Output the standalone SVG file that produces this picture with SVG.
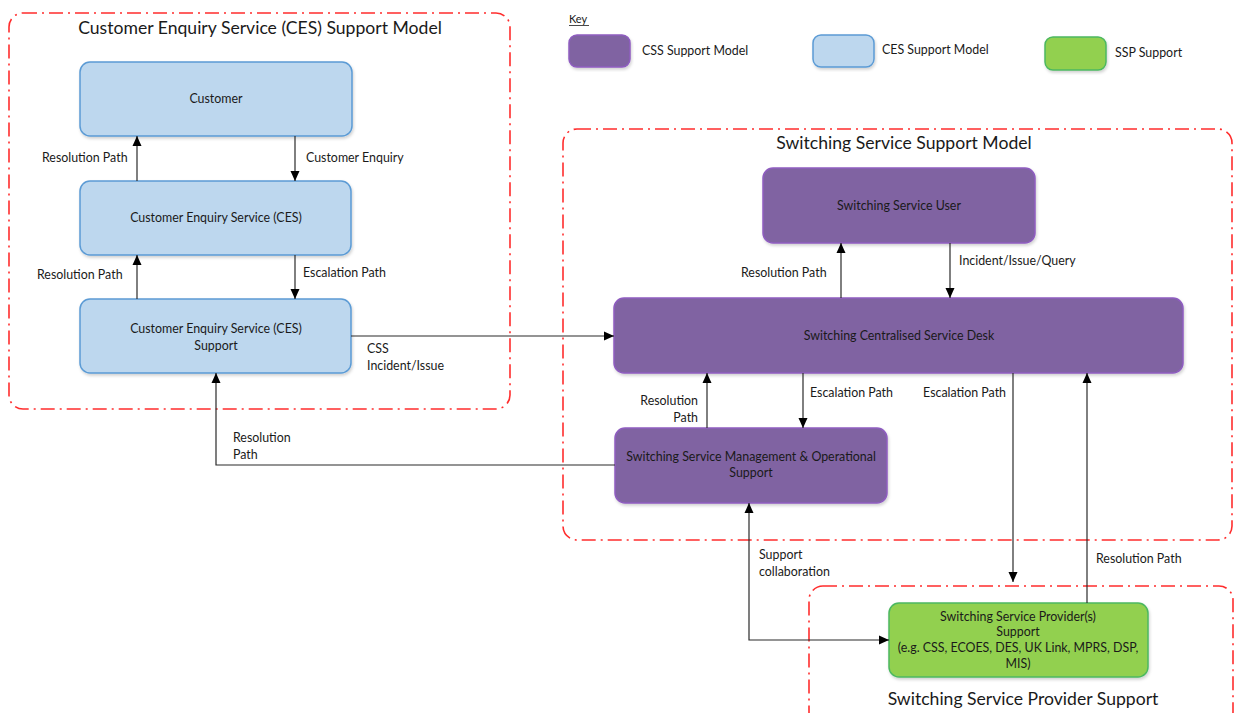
<svg xmlns="http://www.w3.org/2000/svg" width="1237" height="713" viewBox="0 0 1237 713">
  <style>
    text { font-family: Lato, "Liberation Sans", Arial, sans-serif; fill: #1a1a1a; }
    .title { font-size: 17.6px; }
    .lbl { font-size: 12.4px; }
    .ntxt { font-size: 12.4px; text-anchor: middle; }
    .frame { fill: none; stroke: #ff2d2d; stroke-width: 1.6; stroke-dasharray: 14 5 2 5; }
    .ces { fill: #bdd7ee; stroke: #5b9bd5; stroke-width: 1.5; }
    .css { fill: #8064a2; stroke: #8e5cc0; stroke-width: 1.5; }
    .ssp { fill: #92d050; stroke: #4cb860; stroke-width: 1.5; }
    .wire { fill: none; stroke: #2a2a2a; stroke-width: 1.2; }
  </style>
  <defs>
    <marker id="arrow" viewBox="0 0 10 10" refX="10" refY="5" markerWidth="10" markerHeight="10" markerUnits="userSpaceOnUse" orient="auto-start-reverse">
      <path d="M0,0.5 L10,5 L0,9.5 Z" fill="#000"/>
    </marker>
    <filter id="shadow" x="-5%" y="-10%" width="110%" height="125%">
      <feDropShadow dx="1" dy="2" stdDeviation="1.5" flood-color="#000" flood-opacity="0.18"/>
    </filter>
  </defs>

  <rect width="1237" height="713" fill="#ffffff"/>

  <!-- Support model frames -->
  <g id="frame-ces">
    <rect class="frame" x="9" y="13" width="501" height="396" rx="14"/>
    <text class="title" x="260" y="34" text-anchor="middle">Customer Enquiry Service (CES) Support Model</text>
  </g>
  <g id="frame-switching">
    <rect class="frame" x="563" y="129" width="669" height="411" rx="14"/>
    <text class="title" x="904" y="149" text-anchor="middle">Switching Service Support Model</text>
  </g>
  <g id="frame-ssp">
    <rect class="frame" x="809" y="586" width="424" height="140" rx="14"/>
    <text class="title" x="1023" y="705" text-anchor="middle">Switching Service Provider Support</text>
  </g>

  <!-- Key -->
  <g id="key">
    <text x="569" y="23" font-size="11">Key</text>
    <line x1="569" y1="25.5" x2="589" y2="25.5" stroke="#1a1a1a" stroke-width="0.8"/>
    <rect class="css" x="569" y="35" width="61" height="32" rx="8" filter="url(#shadow)"/>
    <text class="lbl" x="642" y="55" font-size="11.5">CSS Support Model</text>
    <rect class="ces" x="813" y="35" width="61" height="32" rx="8" filter="url(#shadow)"/>
    <text class="lbl" x="882" y="54" font-size="11.5">CES Support Model</text>
    <rect class="ssp" x="1045" y="37" width="61" height="33" rx="8" filter="url(#shadow)"/>
    <text class="lbl" x="1115" y="57" font-size="11.5">SSP Support</text>
  </g>

  <!-- CES nodes -->
  <g id="customer">
    <rect class="ces" x="80" y="62" width="272" height="74" rx="10" filter="url(#shadow)"/>
    <text class="ntxt" x="216" y="103">Customer</text>
  </g>
  <g id="ces">
    <rect class="ces" x="80" y="181" width="271" height="74" rx="10" filter="url(#shadow)"/>
    <text class="ntxt" x="216" y="222">Customer Enquiry Service (CES)</text>
  </g>
  <g id="ces-support">
    <rect class="ces" x="80" y="299" width="271" height="74" rx="10" filter="url(#shadow)"/>
    <text class="ntxt" x="216" y="333">Customer Enquiry Service (CES)</text>
    <text class="ntxt" x="216" y="350">Support</text>
  </g>

  <!-- Switching nodes -->
  <g id="service-user">
    <rect class="css" x="763" y="168" width="272" height="75" rx="10" filter="url(#shadow)"/>
    <text class="ntxt" x="899" y="210">Switching Service User</text>
  </g>
  <g id="service-desk">
    <rect class="css" x="614" y="298" width="569" height="75" rx="10" filter="url(#shadow)"/>
    <text class="ntxt" x="899" y="340">Switching Centralised Service Desk</text>
  </g>
  <g id="management">
    <rect class="css" x="615" y="428" width="272" height="75" rx="10" filter="url(#shadow)"/>
    <text class="ntxt" x="751" y="461">Switching Service Management &amp; Operational</text>
    <text class="ntxt" x="751" y="477">Support</text>
  </g>
  <g id="provider">
    <rect class="ssp" x="889" y="603" width="259" height="74" rx="10" filter="url(#shadow)"/>
    <text class="ntxt" x="1018" y="621">Switching Service Provider(s)</text>
    <text class="ntxt" x="1018" y="636">Support</text>
    <text class="ntxt" x="1018" y="652">(e.g. CSS, ECOES, DES, UK Link, MPRS, DSP,</text>
    <text class="ntxt" x="1018" y="668">MIS)</text>
  </g>

  <!-- Connectors -->
  <g id="connectors">
    <path class="wire" d="M295,136 V181" marker-end="url(#arrow)"/>
    <path class="wire" d="M137,181 V136" marker-end="url(#arrow)"/>
    <path class="wire" d="M295,255 V299" marker-end="url(#arrow)"/>
    <path class="wire" d="M137,299 V255" marker-end="url(#arrow)"/>
    <path class="wire" d="M351,336 H614" marker-end="url(#arrow)"/>
    <path class="wire" d="M615,465 H216 V373" marker-end="url(#arrow)"/>
    <path class="wire" d="M841,298 V243" marker-end="url(#arrow)"/>
    <path class="wire" d="M950,243 V298" marker-end="url(#arrow)"/>
    <path class="wire" d="M803,373 V428" marker-end="url(#arrow)"/>
    <path class="wire" d="M707,428 V373" marker-end="url(#arrow)"/>
    <path class="wire" d="M1013,373 V582" marker-end="url(#arrow)"/>
    <path class="wire" d="M1087,603 V373" marker-end="url(#arrow)"/>
    <path class="wire" d="M749,503 V640 H889" marker-start="url(#arrow)" marker-end="url(#arrow)"/>

    <text class="lbl" x="42" y="162">Resolution Path</text>
    <text class="lbl" x="306" y="162">Customer Enquiry</text>
    <text class="lbl" x="37" y="279">Resolution Path</text>
    <text class="lbl" x="303" y="277">Escalation Path</text>
    <text class="lbl" x="367" y="353">CSS</text>
    <text class="lbl" x="367" y="370">Incident/Issue</text>
    <text class="lbl" x="233" y="442">Resolution</text>
    <text class="lbl" x="233" y="459">Path</text>
    <text class="lbl" x="741" y="277">Resolution Path</text>
    <text class="lbl" x="959" y="265">Incident/Issue/Query</text>
    <text class="lbl" x="698" y="405" text-anchor="end">Resolution</text>
    <text class="lbl" x="698" y="422" text-anchor="end">Path</text>
    <text class="lbl" x="810" y="397">Escalation Path</text>
    <text class="lbl" x="1006" y="397" text-anchor="end">Escalation Path</text>
    <text class="lbl" x="759" y="559">Support</text>
    <text class="lbl" x="759" y="576">collaboration</text>
    <text class="lbl" x="1096" y="563">Resolution Path</text>
  </g>
</svg>
